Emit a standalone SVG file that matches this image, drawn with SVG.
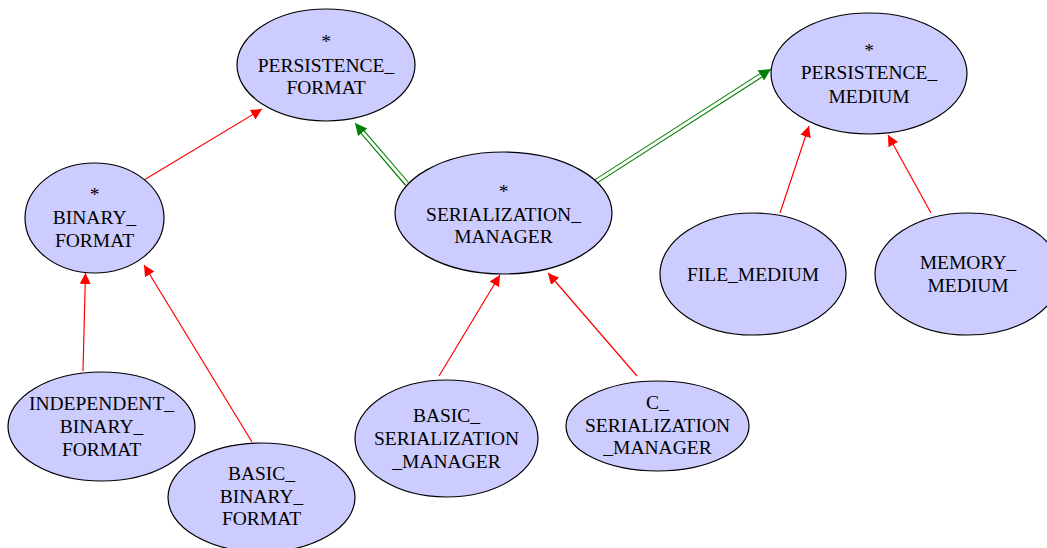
<svg xmlns="http://www.w3.org/2000/svg" width="1047" height="548" viewBox="0 0 1047 548">
<style>
.n ellipse{fill:#ccccff;stroke:#000;stroke-width:1.2}
.n text{font-family:"Liberation Serif","Times New Roman",serif;font-size:19.5px;fill:#000;text-anchor:middle}
.r{stroke:#ff0000;stroke-width:1.2;fill:none}
.go{stroke:#008000;stroke-width:5;fill:none}
.gi{stroke:#ffffff;stroke-width:2.8;fill:none}
</style>
<defs>
<marker id="ar" markerUnits="userSpaceOnUse" markerWidth="12" markerHeight="12" refX="11" refY="5.5" orient="auto"><path d="M0,0 L11,5.5 L0,11 z" fill="#ff0000"/></marker>
<marker id="ag" markerUnits="userSpaceOnUse" markerWidth="14" markerHeight="14" refX="12" refY="6" orient="auto"><path d="M0,0 L12,6 L0,12 z" fill="#008000"/></marker>
</defs>
<rect width="1047" height="548" fill="#ffffff"/>
<g id="connectors">
<line class="r" x1="144" y1="180" x2="262" y2="109" marker-end="url(#ar)"/>
<line class="r" x1="83" y1="371" x2="85.5" y2="273" marker-end="url(#ar)"/>
<line class="r" x1="252" y1="442" x2="144" y2="265" marker-end="url(#ar)"/>
<line class="r" x1="439" y1="376" x2="500" y2="275" marker-end="url(#ar)"/>
<line class="r" x1="637" y1="376" x2="548" y2="273" marker-end="url(#ar)"/>
<line class="r" x1="780" y1="213" x2="809" y2="126" marker-end="url(#ar)"/>
<line class="r" x1="931" y1="213" x2="888" y2="135" marker-end="url(#ar)"/>
<g id="e-sm-pf">
<line class="go" x1="407" y1="184" x2="362" y2="131.4"/>
<line class="gi" x1="409" y1="186" x2="361.5" y2="130.8"/>
<line stroke="#008000" stroke-width="1" x1="362" y1="131.4" x2="355" y2="123" marker-end="url(#ag)"/>
</g>
<g id="e-sm-pm">
<line class="go" x1="595" y1="182" x2="761" y2="75.3"/>
<line class="gi" x1="593" y1="183.3" x2="761.8" y2="74.8"/>
<line stroke="#008000" stroke-width="1" x1="761" y1="75.3" x2="771" y2="69" marker-end="url(#ag)"/>
</g>
</g>
<g id="persistence_format" class="n">
<ellipse cx="326" cy="65" rx="89" ry="56"/>
<text x="326" y="48">*</text>
<text x="326" y="72">PERSISTENCE_</text>
<text x="326" y="94">FORMAT</text>
</g>
<g id="binary_format" class="n">
<ellipse cx="94.5" cy="218" rx="69.5" ry="55"/>
<text x="94.5" y="201">*</text>
<text x="94.5" y="224">BINARY_</text>
<text x="94.5" y="247">FORMAT</text>
</g>
<g id="serialization_manager" class="n">
<ellipse cx="503.5" cy="213" rx="108.5" ry="61"/>
<text x="503.5" y="198">*</text>
<text x="503.5" y="221">SERIALIZATION_</text>
<text x="503.5" y="243">MANAGER</text>
</g>
<g id="persistence_medium" class="n">
<ellipse cx="869" cy="73.5" rx="98" ry="60.5"/>
<text x="869" y="57">*</text>
<text x="869" y="79">PERSISTENCE_</text>
<text x="869" y="103">MEDIUM</text>
</g>
<g id="independent_binary_format" class="n">
<ellipse cx="101.5" cy="426.5" rx="93.5" ry="54.5"/>
<text x="101.5" y="410">INDEPENDENT_</text>
<text x="101.5" y="433">BINARY_</text>
<text x="101.5" y="456">FORMAT</text>
</g>
<g id="basic_binary_format" class="n">
<ellipse cx="261.5" cy="497.5" rx="93.5" ry="54.5"/>
<text x="261.5" y="480">BASIC_</text>
<text x="261.5" y="503">BINARY_</text>
<text x="261.5" y="525">FORMAT</text>
</g>
<g id="basic_serialization_manager" class="n">
<ellipse cx="446.5" cy="438.5" rx="91.5" ry="58.5"/>
<text x="446.5" y="422">BASIC_</text>
<text x="446.5" y="445">SERIALIZATION</text>
<text x="446.5" y="468">_MANAGER</text>
</g>
<g id="c_serialization_manager" class="n">
<ellipse cx="657.5" cy="426" rx="91.5" ry="45"/>
<text x="657.5" y="409">C_</text>
<text x="657.5" y="432">SERIALIZATION</text>
<text x="657.5" y="454">_MANAGER</text>
</g>
<g id="file_medium" class="n">
<ellipse cx="753" cy="274" rx="93" ry="61"/>
<text x="753" y="281">FILE_MEDIUM</text>
</g>
<g id="memory_medium" class="n">
<ellipse cx="968" cy="274" rx="93" ry="61"/>
<text x="968" y="269">MEMORY_</text>
<text x="968" y="292">MEDIUM</text>
</g>
</svg>
